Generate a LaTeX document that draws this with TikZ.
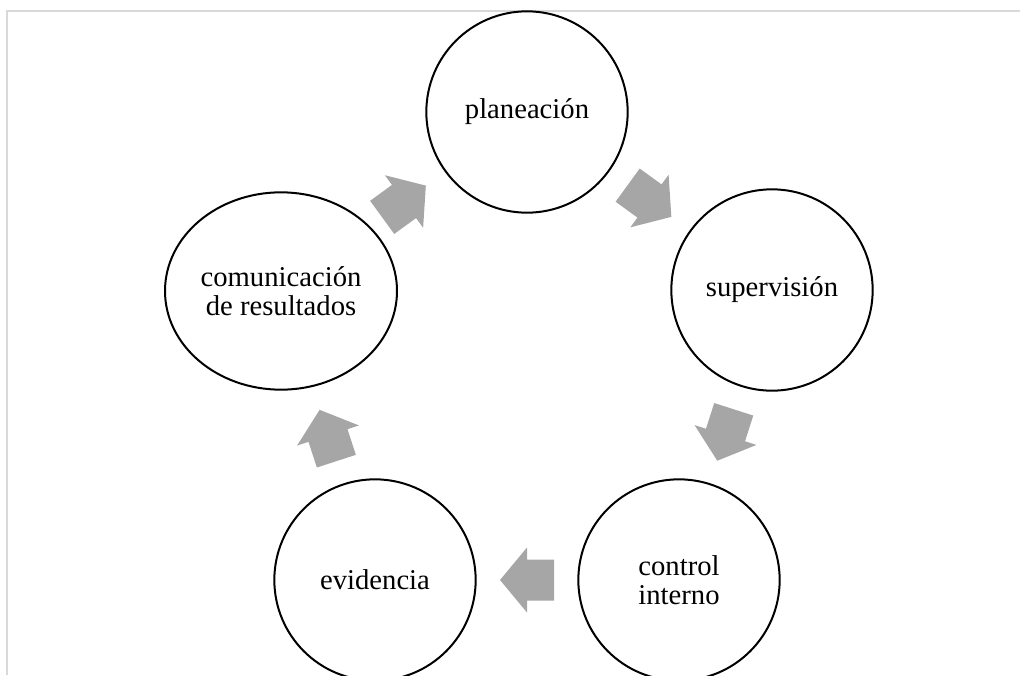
\documentclass[tikz,border=0pt]{standalone}
\usepackage{fontspec}
\setmainfont{Liberation Serif}
\usetikzlibrary{calc,shapes.geometric}
\definecolor{framegray}{HTML}{D9D9D9}
\definecolor{arrowgray}{HTML}{A6A6A6}
\tikzset{
  stage/.style={circle, draw=black, fill=white, line width=1.5pt, minimum size=151pt,
    inner sep=0pt, align=center, font=\fontsize{21.5}{21.5}\selectfont},
  widestage/.style={stage, ellipse, minimum width=174pt, minimum height=148pt},
  blockarrow/.style={fill=arrowgray, draw=none},
  framerule/.style={draw=framegray, line width=1.2pt}
}
\newcommand\cyclearrow[2]{%
  \path let \p1=(#1.center), \p2=(#2.center) in
    coordinate (m-#1-#2) at ($(\p1)!0.5!(\p2)$)
    \pgfextra{\pgfmathsetmacro\cycang{atan2(\y2-\y1,\x2-\x1)}\global\let\cycangle\cycang};
  \fill[blockarrow, shift={(m-#1-#2)}, rotate=\cycangle]
    (-27,-20.5) -- (0,-20.5) -- (0,-32.5) -- (27,0) -- (0,32.5) -- (0,20.5) -- (-27,20.5) -- cycle;
}
\begin{document}
\begin{tikzpicture}[x=0.75pt,y=-0.75pt]
\useasboundingbox (0,0) rectangle (1020,675);
\coordinate (fbl) at (7,675);
\coordinate (ftl) at (7,11);
\coordinate (ftr) at (1020,11);
\draw[framerule] (fbl) -- (ftl) -- (ftr);

\node[stage] (p) at (527,112) {planeación};
\node[stage] (s) at (772,290) {supervisión};
\node[stage] (c) at (679,580) {control\\interno};
\node[stage] (e) at (375,580) {evidencia};
\node[widestage] (r) at (281,291) {comunicación\\de resultados};

\cyclearrow{p}{s}
\cyclearrow{s}{c}
\cyclearrow{c}{e}
\cyclearrow{e}{r}
\cyclearrow{r}{p}
\end{tikzpicture}
\end{document}
